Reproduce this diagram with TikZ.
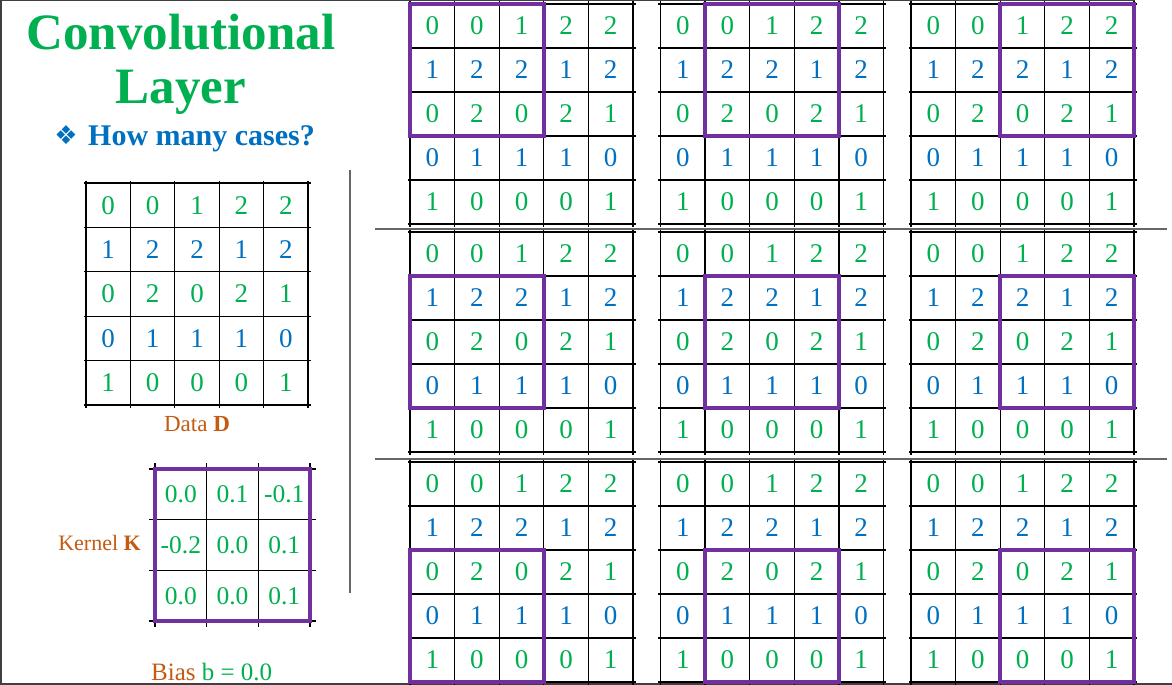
\documentclass[tikz,border=0pt]{standalone}
\usepackage{fontspec}
\setmainfont{Liberation Serif}
\newfontfamily\symfont{DejaVu Sans}
\definecolor{cgreen}{HTML}{00B050}
\definecolor{cblue}{HTML}{0070C0}
\definecolor{cpurple}{HTML}{7030A0}
\definecolor{corange}{HTML}{C55A11}
\definecolor{frameg}{HTML}{404040}
\tikzset{
  gridline/.style={line width=1.3pt, black},
  hl/.style={line width=3.5pt, cpurple},
  cellnum/.style={inner sep=0pt, font=\fontsize{27}{32}\selectfont},
  kernnum/.style={inner sep=0pt, font=\fontsize{25.5}{30}\selectfont, text=cgreen},
  lab/.style={inner sep=0pt, font=\fontsize{23}{28}\selectfont, text=corange},
  sepline/.style={line width=1.5pt, frameg!80},
}
% #1 x, #2 y, #3 cell width, #4 cell height, #5 name
\newcommand\convgrid[5]{%
  \foreach \k in {0,...,5} {
    \draw[gridline] (#1-2.5, #2+\k*#4) -- (#1+5*#3+2.5, #2+\k*#4);
    \draw[gridline] (#1+\k*#3, #2-2.5) -- (#1+\k*#3, #2+5*#4+2.5);
  }
  \foreach \rv [count=\r from 0] in {{0,0,1,2,2},{1,2,2,1,2},{0,2,0,2,1},{0,1,1,1,0},{1,0,0,0,1}} {
    \ifodd\r \def\cc{cblue}\else\def\cc{cgreen}\fi
    \foreach \v [count=\c from 0] in \rv {
      \node[cellnum, text=\cc] (#5-\r-\c) at (#1+\c*#3+0.5*#3, #2+\r*#4+0.5*#4) {\v};
    }
  }
}
% #1 x, #2 y, #3 cw, #4 ch, #5 row offset, #6 col offset
\newcommand\hlbox[6]{%
  \draw[hl] (#1+#6*#3, #2+#5*#4) rectangle (#1+#6*#3+3*#3, #2+#5*#4+3*#4);
}
\begin{document}
\begin{tikzpicture}[x=1pt, y=-1pt]
\useasboundingbox (0,0) rectangle (1172,685);
\fill[white] (0,0) rectangle (1172,685);
% frame
\draw[frameg, line width=1.5pt] (0.75,0) -- (0.75,685);
\draw[frameg, line width=1.5pt] (0,0.75) -- (1135,0.75);
\draw[frameg, line width=2.5pt] (0,684) -- (1172,684);

% title
\node[inner sep=0pt, anchor=base, text=cgreen, font=\fontsize{51}{56}\selectfont\bfseries] (t1) at (181,50) {Convolutional};
\node[inner sep=0pt, anchor=base, text=cgreen, font=\fontsize{51}{56}\selectfont\bfseries] (t2) at (181,103) {Layer};
\node[inner sep=0pt, anchor=center, text=cblue, font=\fontsize{26}{30}\selectfont\symfont] (bul) at (66,135) {❖};
\node[inner sep=0pt, anchor=base west, text=cblue, font=\fontsize{30}{34}\selectfont\bfseries] (q) at (88,145) {How many cases?};

% data grid
\convgrid{86}{183}{44.4}{44.4}{d}
\node[lab, anchor=base] (dlab) at (197,431) {Data \textbf{D}};

% kernel
\foreach \k in {0,...,3} {
  \draw[gridline] (149, 469+\k*50.7) -- (316, 469+\k*50.7);
  \draw[gridline] (155+\k*51.7, 463) -- (155+\k*51.7, 627);
}
\draw[hl] (155,469) rectangle (310,621);
\foreach \rv [count=\r from 0] in {{0.0,0.1,-0.1},{-0.2,0.0,0.1},{0.0,0.0,0.1}} {
  \foreach \v [count=\c from 0] in \rv {
    \node[kernnum] (k-\r-\c) at (155+\c*51.7+25.85, 469+\r*50.7+25.35) {\v};
  }
}
\node[lab, anchor=base east, font=\fontsize{22}{26}\selectfont] (klab) at (141,550) {Kernel \textbf{K}};
\node[lab, anchor=base west, font=\fontsize{25}{30}\selectfont] (blab) at (151,680) {Bias \textcolor{cgreen}{b = 0.0}};

% divider and separators
\draw[sepline] (350,170) -- (350,593);
\draw[sepline] (375,229) -- (1167,229);
\draw[sepline] (375,459) -- (1167,459);

% nine cases
\foreach \gy [count=\i from 0] in {4,232,462} {
  \foreach \gx [count=\j from 0] in {410,660.5,911} {
    \convgrid{\gx}{\gy}{44.6}{44}{g\i\j}
    \hlbox{\gx}{\gy}{44.6}{44}{\i}{\j}
  }
}
\end{tikzpicture}
\end{document}
